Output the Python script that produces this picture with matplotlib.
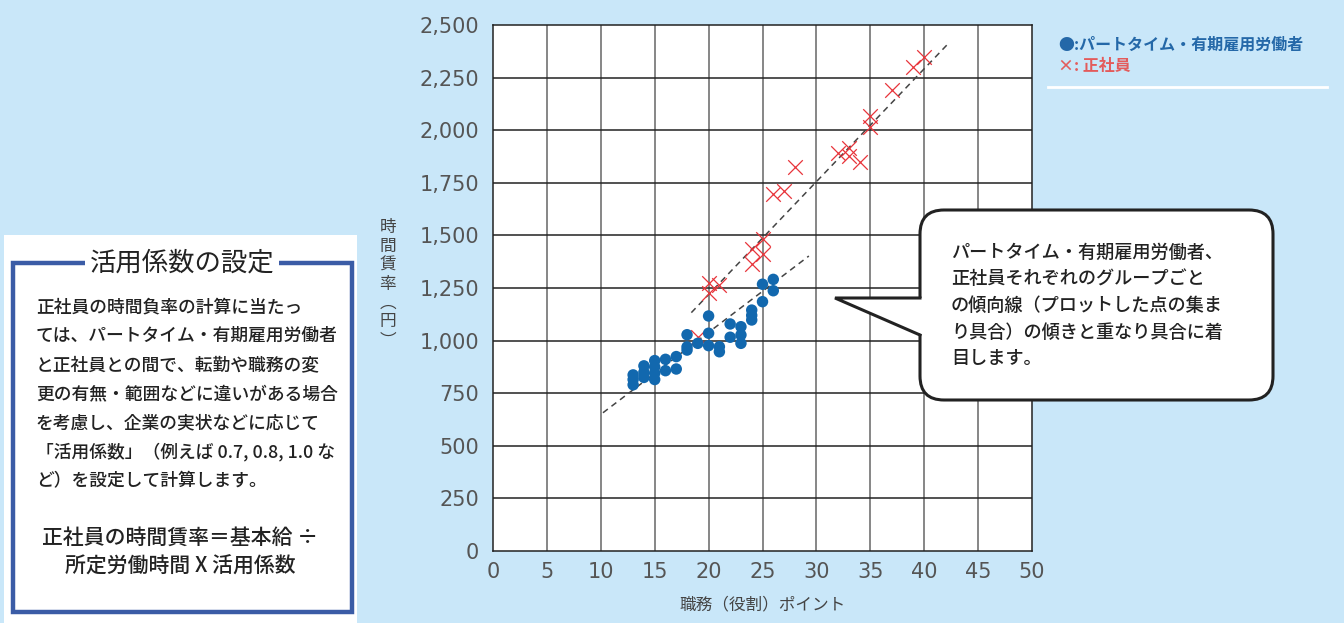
#!/usr/bin/env python3
"""
Scatter of hourly wage vs job points: part-time vs regular employees.
"""

import matplotlib
matplotlib.use('Agg')
import matplotlib.pyplot as plt
from matplotlib.patches import FancyBboxPatch, Polygon, Rectangle

plt.rcParams['font.family'] = ['Noto Sans CJK JP', 'DejaVu Sans']

# Part-time / fixed-term workers (blue dots)
blue_x = [13, 13, 13, 14, 14, 14, 15, 15, 15, 15, 16, 16, 17, 17,
          18, 18, 18, 19, 20, 20, 20, 21, 21, 22, 22, 23, 23, 23,
          24, 24, 24, 25, 25, 26, 26]
blue_y = [790, 815, 837, 825, 850, 880, 815, 845, 875, 905, 911, 857, 924, 865,
          1028, 970, 955, 987, 1117, 1035, 976, 971, 947, 1079, 1016, 1066, 1027, 987,
          1145, 1120, 1098, 1268, 1185, 1291, 1237]

# Regular employees (red crosses)
red_x = [19, 20, 20, 21, 24, 24, 25, 25, 26, 27, 28, 32, 33, 33, 34, 35, 35, 37, 39, 40]
red_y = [1015, 1275, 1225, 1265, 1365, 1435, 1410, 1485, 1695, 1712, 1823,
         1893, 1914, 1877, 1850, 2067, 2014, 2191, 2299, 2349]

# Trend lines as drawn in the original
blue_trend_x = [10.2, 29.3]
blue_trend_y = [657, 1402]
red_trend_x = [18.4, 42.2]
red_trend_y = [1133, 2410]

x_ticks = [0, 5, 10, 15, 20, 25, 30, 35, 40, 45, 50]
y_ticks = [0, 250, 500, 750, 1000, 1250, 1500, 1750, 2000, 2250, 2500]

BG = '#C9E7F9'
BLUE = '#1268AE'
RED = '#E8343A'
TEXT = '#222222'

body_lines = [
    '正社員の時間負率の計算に当たっ',
    'ては、パートタイム・有期雇用労働者',
    'と正社員との間で、転勤や職務の変',
    '更の有無・範囲などに違いがある場合',
    'を考慮し、企業の実状などに応じて',
    '「活用係数」（例えば 0.7, 0.8, 1.0 な',
    'ど）を設定して計算します。',
]
formula_lines = ['正社員の時間賃率＝基本給 ÷', '所定労働時間 X 活用係数']
callout_lines = [
    'パートタイム・有期雇用労働者、',
    '正社員それぞれのグループごと',
    'の傾向線（プロットした点の集ま',
    'り具合）の傾きと重なり具合に着',
    '目します。',
]


def draw_chart(fig):
    ax = fig.add_axes([493 / 1344, 72 / 623, 539 / 1344, 526 / 623])
    ax.set_facecolor('white')
    ax.set_xlim(0, 50)
    ax.set_ylim(0, 2500)
    ax.set_xticks(x_ticks)
    ax.set_yticks(y_ticks)
    tick_font = dict(family='DejaVu Sans', size=15, color='#555555')
    ax.set_xticklabels([str(v) for v in x_ticks], fontdict=tick_font)
    ax.set_yticklabels([f'{v:,}' for v in y_ticks], fontdict=tick_font)
    ax.tick_params(length=0, pad=10)
    ax.tick_params(axis='x', pad=8)

    for v in x_ticks[1:-1]:
        ax.axvline(v, color='#666666', linewidth=1.1, zorder=1)
    for v in y_ticks[1:-1]:
        ax.axhline(v, color='#222222', linewidth=1.1, zorder=1)
    for s in ax.spines.values():
        s.set_color('#222222')
        s.set_linewidth(1.1)

    ax.plot(blue_trend_x, blue_trend_y, color='#444444', linestyle=(0, (4, 3)),
            linewidth=1.1, zorder=2)
    ax.plot(red_trend_x, red_trend_y, color='#444444', linestyle=(0, (4, 3)),
            linewidth=1.1, zorder=2)

    ax.scatter(red_x, red_y, marker='x', s=110, color=RED, linewidths=0.9, zorder=3)
    ax.scatter(blue_x, blue_y, marker='o', s=68, color=BLUE, edgecolors='none', zorder=4)

    ax.set_xlabel('職務（役割）ポイント', fontsize=12, color='#444444', labelpad=10)
    return ax


def draw_overlay(fig):
    ov = fig.add_axes([0, 0, 1, 1], zorder=5)
    ov.set_xlim(0, 1344)
    ov.set_ylim(623, 0)
    ov.axis('off')
    ov.patch.set_alpha(0)

    # vertical y-axis label
    ov.text(388, 284, '時\n間\n賃\n率\n︵\n円\n︶', ha='center', va='center',
            fontsize=12, color='#444444', linespacing=1.15)

    # legend at top right
    ov.text(1058, 45, '●:パートタイム・有期雇用労働者', ha='left', va='center',
            fontsize=11.5, fontweight='bold', color='#2468A8')
    ov.text(1058, 66, '×: 正社員', ha='left', va='center',
            fontsize=11.5, fontweight='bold', color='#E35B5B')
    ov.plot([1048, 1327], [87, 87], color='white', linewidth=2)

    # left info panel
    ov.add_patch(Rectangle((4, 235), 353, 390, facecolor='white', edgecolor='none'))
    ov.add_patch(Rectangle((13, 263), 339, 349, facecolor='none',
                           edgecolor='#3B5CA6', linewidth=3.2))
    ov.text(182, 263, '活用係数の設定', ha='center', va='center', fontsize=19,
            color=TEXT, bbox=dict(facecolor='white', edgecolor='none', pad=3))
    for i, line in enumerate(body_lines):
        ov.text(36, 307 + i * 29, line, ha='left', va='center',
                fontsize=12.8, fontweight='medium', color=TEXT)
    for i, line in enumerate(formula_lines):
        ov.text(180, 538 + i * 29, line, ha='center', va='center',
                fontsize=15, fontweight='medium', color=TEXT)

    # callout bubble
    ov.add_patch(FancyBboxPatch((920, 210), 353, 190,
                                boxstyle='round,pad=0,rounding_size=24',
                                facecolor='white', edgecolor='#222222', linewidth=2.2))
    ov.add_patch(Polygon([(835, 298), (923, 298), (923, 335)], closed=True,
                         facecolor='white', edgecolor='none'))
    ov.plot([920, 835, 920], [298, 298, 335], color='#222222', linewidth=2.2,
            solid_joinstyle='miter')
    for i, line in enumerate(callout_lines):
        ov.text(951, 253 + i * 26.5, line, ha='left', va='center',
                fontsize=13.1, fontweight='medium', color=TEXT)


def main():
    fig = plt.figure(figsize=(13.44, 6.23), dpi=100)
    fig.patch.set_facecolor(BG)
    draw_chart(fig)
    draw_overlay(fig)
    fig.savefig('out.png', dpi=100, facecolor=BG)


if __name__ == '__main__':
    main()
